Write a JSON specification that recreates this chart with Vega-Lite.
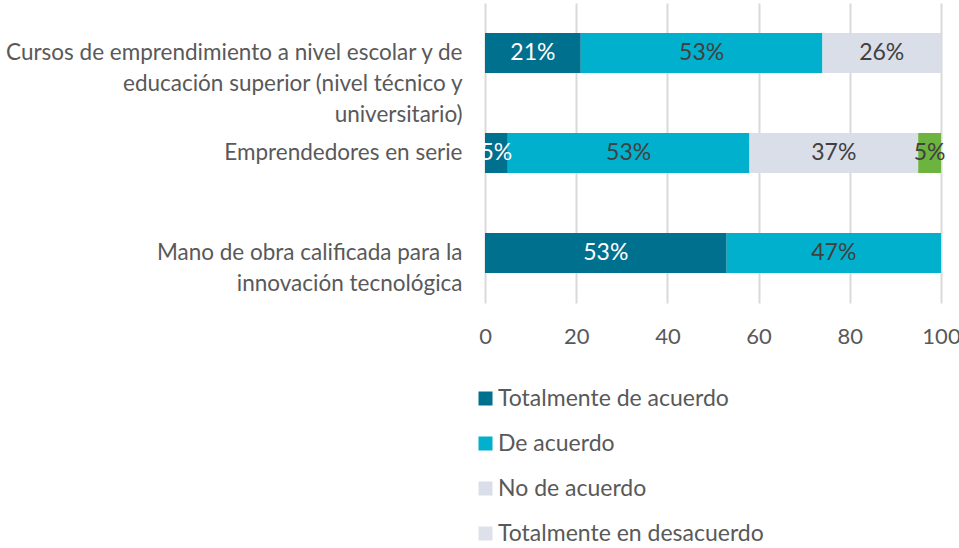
{
  "$schema": "https://vega.github.io/schema/vega-lite/v6.json",
  "width": 456,
  "height": 300,
  "autosize": {"type": "none"},
  "padding": {"left": 485, "top": 3, "right": 18, "bottom": 245},
  "background": "white",
  "config": {
    "view": {"stroke": null},
    "font": "Lato",
    "text": {"font": "Lato"}
  },
  "data": {
    "values": [
      {"item": "Cursos de emprendimiento a nivel escolar y de|educación superior (nivel técnico y|universitario)", "respuesta": "Totalmente de acuerdo", "orden": 1, "pct": 21},
      {"item": "Cursos de emprendimiento a nivel escolar y de|educación superior (nivel técnico y|universitario)", "respuesta": "De acuerdo", "orden": 2, "pct": 53},
      {"item": "Cursos de emprendimiento a nivel escolar y de|educación superior (nivel técnico y|universitario)", "respuesta": "No de acuerdo", "orden": 3, "pct": 26},
      {"item": "Emprendedores en serie", "respuesta": "Totalmente de acuerdo", "orden": 1, "pct": 5},
      {"item": "Emprendedores en serie", "respuesta": "De acuerdo", "orden": 2, "pct": 53},
      {"item": "Emprendedores en serie", "respuesta": "No de acuerdo", "orden": 3, "pct": 37},
      {"item": "Emprendedores en serie", "respuesta": "Totalmente en desacuerdo", "orden": 4, "pct": 5},
      {"item": "Mano de obra calificada para la|innovación tecnológica", "respuesta": "Totalmente de acuerdo", "orden": 1, "pct": 53},
      {"item": "Mano de obra calificada para la|innovación tecnológica", "respuesta": "De acuerdo", "orden": 2, "pct": 47}
    ]
  },
  "transform": [
    {"stack": "pct", "groupby": ["item"], "sort": [{"field": "orden"}], "as": ["x0", "x1"]},
    {"calculate": "(datum.x0 + datum.x1) / 2", "as": "xmid"},
    {"calculate": "datum.pct + '%'", "as": "etiqueta"}
  ],
  "encoding": {
    "y": {
      "field": "item",
      "type": "nominal",
      "sort": null,
      "scale": {"paddingInner": 0.6, "paddingOuter": 0.3},
      "axis": {
        "title": null,
        "domain": false,
        "ticks": false,
        "tickSize": 0,
        "grid": false,
        "labelExpr": "indexof(datum.label, '|') >= 0 ? split(datum.label, '|') : datum.label",
        "labelFontSize": 22.5,
        "labelColor": "#595959",
        "labelAlign": "right",
        "labelBaseline": "middle",
        "labelLineHeight": 31,
        "labelPadding": 23,
        "labelLimit": 0
      }
    }
  },
  "layer": [
    {
      "mark": {"type": "bar"},
      "encoding": {
        "x": {
          "field": "x0",
          "type": "quantitative",
          "scale": {"domain": [0, 100]},
          "axis": {
            "title": null,
            "values": [0, 20, 40, 60, 80, 100],
            "domain": false,
            "ticks": false,
            "tickSize": 0,
            "grid": true,
            "gridColor": "#d9d9d9",
            "gridWidth": 2,
            "labelFontSize": 22,
            "labelColor": "#595959",
            "labelPadding": 23,
            "labelFlush": false
          }
        },
        "x2": {"field": "x1"},
        "color": {
          "condition": {"test": "datum.respuesta === 'Totalmente en desacuerdo'", "value": "#6db33f"},
          "field": "respuesta",
          "type": "nominal",
          "scale": {
            "domain": ["Totalmente de acuerdo", "De acuerdo", "No de acuerdo", "Totalmente en desacuerdo"],
            "range": ["#00708f", "#00b0cc", "#d9dee9", "#dee1ea"]
          },
          "legend": {
            "title": null,
            "orient": "none",
            "legendX": -11,
            "legendY": 384,
            "direction": "vertical",
            "symbolType": "square",
            "symbolSize": 196,
            "symbolStrokeWidth": 0,
            "labelFontSize": 23,
            "labelColor": "#595959",
            "labelOffset": 1,
            "labelLimit": 0,
            "rowPadding": 21,
            "padding": 0
          }
        }
      }
    },
    {
      "mark": {"type": "text", "fontSize": 23, "baseline": "middle", "align": "center"},
      "encoding": {
        "x": {"field": "xmid", "type": "quantitative"},
        "text": {"field": "etiqueta", "type": "nominal"},
        "color": {
          "condition": {"test": "datum.respuesta === 'Totalmente de acuerdo'", "value": "#ffffff"},
          "value": "#404040"
        }
      }
    }
  ]
}
